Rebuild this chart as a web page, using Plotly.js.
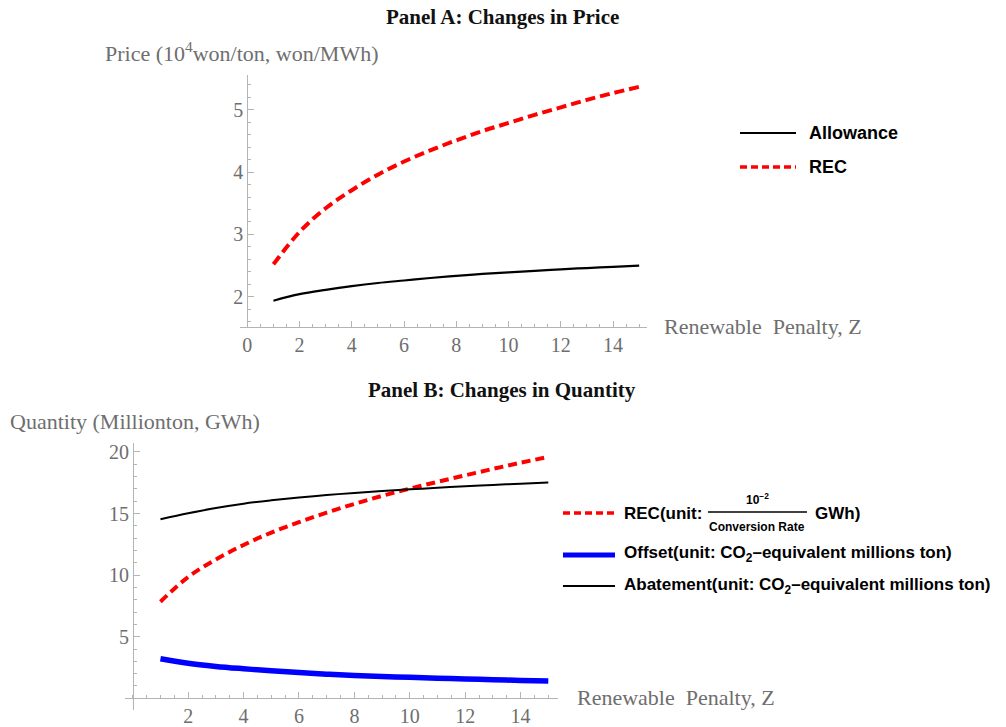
<!DOCTYPE html>
<html><head><meta charset="utf-8">
<script src="https://cdn.plot.ly/plotly-3.0.1.min.js"></script>
<style>body{margin:0;background:#fff}#chart{width:1006px;height:727px}</style>
</head><body><div id="chart"></div>
<script>
// ---- data ----
const penalty = [1,2,3,4,5,6,7,8,9,10,11,12,13,14,15];
const allowancePrice = [1.935,2.04,2.11,2.17,2.22,2.26,2.30,2.335,2.365,2.39,2.415,2.44,2.46,2.48,2.50];
const recPrice = [2.52,3.04,3.42,3.71,3.96,4.17,4.35,4.51,4.66,4.79,4.92,5.04,5.16,5.27,5.37];
const recQuantity = [7.84,9.85,11.27,12.45,13.45,14.3,15.07,15.78,16.43,17.02,17.57,18.1,18.62,19.12,19.6];
const offsetQuantity = [3.21,2.84,2.59,2.40,2.23,2.09,1.96,1.85,1.77,1.70,1.63,1.57,1.51,1.45,1.40];
const abatementQuantity = [14.54,15.02,15.45,15.80,16.07,16.30,16.50,16.67,16.82,16.96,17.09,17.21,17.32,17.42,17.52];
const xTicksA = [0,2,4,6,8,10,12,14];
const yTicksA = [2,3,4,5];
const xTicksB = [2,4,6,8,10,12,14];
const yTicksB = [5,10,15,20];

// ---- layout helpers (pixel -> paper) ----
const W = 1006, H = 727;
const px = v => v / W;
const py = v => 1 - v / H;

const SERIF = 'Liberation Serif, Times New Roman, serif';
const SANS = 'Liberation Sans, Arial, sans-serif';
const GRAY = '#6e6e6e';
const AXIS = '#b4b4b4';

function axisBase() {
  return {
    showline: true, linecolor: AXIS, linewidth: 1,
    showgrid: false, zeroline: false,
    ticks: 'inside', ticklen: 6, tickcolor: AXIS, tickwidth: 1,
    tickfont: {family: SERIF, size: 20, color: GRAY},
    fixedrange: true
  };
}

const traces = [
  {x: penalty, y: allowancePrice, xaxis: 'x', yaxis: 'y', mode: 'lines', name: 'Allowance',
   line: {color: '#000', width: 2.2, shape: 'spline'}},
  {x: penalty, y: recPrice, xaxis: 'x', yaxis: 'y', mode: 'lines', name: 'REC',
   line: {color: '#ff0000', width: 4, dash: '10px,5px', shape: 'spline'}},
  {x: penalty, y: offsetQuantity, xaxis: 'x2', yaxis: 'y2', mode: 'lines', name: 'Offset',
   line: {color: '#0000ff', width: 5.5, shape: 'spline'}},
  {x: penalty, y: recQuantity, xaxis: 'x2', yaxis: 'y2', mode: 'lines', name: 'REC quantity',
   line: {color: '#ff0000', width: 4, dash: '9px,5px', shape: 'spline'}},
  {x: penalty, y: abatementQuantity, xaxis: 'x2', yaxis: 'y2', mode: 'lines', name: 'Abatement',
   line: {color: '#000', width: 2, shape: 'spline'}}
];

const xaxis = Object.assign(axisBase(), {
  domain: [px(240), px(647)], range: [-0.28, 15.3], anchor: 'y',
  tickmode: 'array', tickvals: xTicksA, ticktext: xTicksA.map(String),
  minor: {tickmode: 'linear', tick0: 0, dtick: 0.5, ticks: 'inside', ticklen: 3, tickcolor: AXIS}
});
const yaxis = Object.assign(axisBase(), {
  domain: [py(326.7), py(75)], range: [1.518, 5.56], anchor: 'free', position: px(247.3),
  tickmode: 'array', tickvals: yTicksA, ticktext: yTicksA.map(String),
  minor: {tickmode: 'linear', tick0: 0, dtick: 0.2, ticks: 'inside', ticklen: 3, tickcolor: AXIS}
});
const xaxis2 = Object.assign(axisBase(), {
  domain: [px(125), px(558)], range: [-0.28, 15.35], anchor: 'free', position: py(698.3),
  tickmode: 'array', tickvals: xTicksB, ticktext: xTicksB.map(String),
  minor: {tickmode: 'linear', tick0: 0, dtick: 0.5, ticks: 'inside', ticklen: 3, tickcolor: AXIS}
});
const yaxis2 = Object.assign(axisBase(), {
  domain: [py(710), py(443.3)], range: [-0.95, 20.7], anchor: 'free', position: px(132.9),
  tickmode: 'array', tickvals: yTicksB, ticktext: yTicksB.map(String),
  minor: {tickmode: 'linear', tick0: 0, dtick: 1, ticks: 'inside', ticklen: 3, tickcolor: AXIS}
});

function ann(text, x, y, opts) {
  return Object.assign({text: text, xref: 'paper', yref: 'paper', x: px(x), y: py(y),
    xanchor: 'left', yanchor: 'middle', showarrow: false,
    font: {family: SANS, size: 17, color: '#000'}}, opts || {});
}
const bold = s => '<b>' + s + '</b>';

const annotations = [
  ann(bold('Panel A: Changes in Price'), 502, 17, {xanchor: 'center', font: {family: SERIF, size: 21, color: '#111'}}),
  ann(bold('Panel B: Changes in Quantity'), 502, 390, {xanchor: 'center', font: {family: SERIF, size: 21, color: '#111'}}),
  ann('Price (10<sup>4</sup>won/ton, won/MWh)', 103, 52, {font: {family: SERIF, size: 22, color: GRAY}}),
  ann('Quantity (Millionton, GWh)', 8, 421, {font: {family: SERIF, size: 22, color: GRAY}}),
  ann('Renewable\u00a0 Penalty, Z', 662, 327, {font: {family: SERIF, size: 22, color: GRAY}}),
  ann('Renewable\u00a0 Penalty, Z', 575, 697, {font: {family: SERIF, size: 22, color: GRAY}}),
  // legend A
  ann(bold('Allowance'), 807, 133, {font: {family: SANS, size: 18, color: '#000'}}),
  ann(bold('REC'), 807, 167, {font: {family: SANS, size: 18, color: '#000'}}),
  // legend B
  ann(bold('REC(unit:'), 622, 513),
  ann(bold('10<sup>\u22122</sup>'), 757, 499, {xanchor: 'center', font: {family: SANS, size: 12, color: '#000'}}),
  ann(bold('Conversion Rate'), 757, 527, {xanchor: 'center', font: {family: SANS, size: 12, color: '#000'}}),
  ann(bold('GWh)'), 813, 513),
  ann(bold('Offset(unit: CO<sub>2</sub>\u2013equivalent millions ton)'), 622, 554),
  ann(bold('Abatement(unit: CO<sub>2</sub>\u2013equivalent millions ton)'), 622, 586)
];

function seg(x0, x1, y, color, width, dash) {
  return {type: 'line', xref: 'paper', yref: 'paper', x0: px(x0), x1: px(x1), y0: py(y), y1: py(y),
    line: {color: color, width: width, dash: dash || 'solid'}};
}
const shapes = [
  seg(740, 796, 133, '#000', 2.2),
  seg(740, 796, 167, '#ff0000', 3.5, '7px,4px'),
  seg(563, 615, 513, '#ff0000', 3.5, '7px,4px'),
  seg(708, 807, 512, '#000', 1.5),
  seg(563, 615, 555, '#0000ff', 5),
  seg(563, 615, 586, '#000', 2)
];

const layout = {
  width: W, height: H, margin: {l: 0, r: 0, t: 0, b: 0},
  paper_bgcolor: '#fff', plot_bgcolor: 'rgba(0,0,0,0)',
  showlegend: false,
  xaxis: xaxis, yaxis: yaxis, xaxis2: xaxis2, yaxis2: yaxis2,
  annotations: annotations, shapes: shapes
};

Plotly.newPlot('chart', traces, layout, {displayModeBar: false, staticPlot: true});
</script>
</body></html>
